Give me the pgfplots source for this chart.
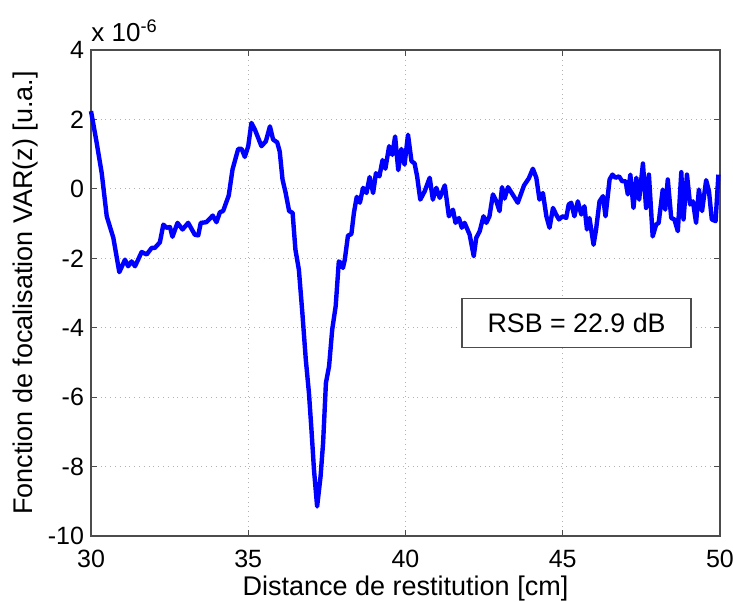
\documentclass[border=0pt]{standalone}
\usepackage{fontspec}
\setmainfont{Liberation Sans}
\usepackage{pgfplots}
\pgfplotsset{compat=1.18}
\begin{document}
\begin{tikzpicture}
\begin{axis}[
  scale only axis,
  width=314.5pt, height=243pt,
  xmin=30, xmax=50, ymin=-10, ymax=4,
  xtick={30,35,40,45,50},
  ytick={-10,-8,-6,-4,-2,0,2,4},
  tick align=inside,
  major tick length=3pt,
  grid=major,
  major grid style={gray!60, dotted, line width=0.5pt},
  axis line style={black!70, line width=0.6pt},
  tick style={black!70, line width=0.5pt},
  /pgf/number format/assume math mode=true,
  tick label style={font=\fontsize{12.5}{14}\selectfont},
  xticklabel style={yshift=-3.5pt},
  label style={font=\fontsize{13.5}{15}\selectfont},
  xlabel={Distance de restitution [cm]},
  ylabel={Fonction de focalisation VAR(z) [u.a.]},
  xlabel style={yshift=3pt},
  ylabel style={yshift=-2pt},
  clip=false,
]
\coordinate (bbsw) at (rel axis cs:-0.1447,-0.1358);
\coordinate (bbne) at (rel axis cs:1.0207,1.1029);
\addplot[blue, line width=2.2pt, line join=round] coordinates {
(30.00,2.24) (30.18,1.33) (30.34,0.46) (30.50,-0.79) (30.71,-1.41) (30.90,-2.40)
(31.08,-2.04) (31.18,-2.23) (31.29,-2.09) (31.40,-2.23) (31.61,-1.82) (31.77,-1.89)
(31.93,-1.70) (32.03,-1.70) (32.19,-1.54) (32.30,-1.03) (32.40,-1.12) (32.51,-1.10)
(32.59,-1.38) (32.75,-0.98) (32.91,-1.17) (33.09,-0.98) (33.30,-1.32) (33.41,-1.34)
(33.49,-0.98) (33.67,-0.96) (33.87,-0.77) (33.99,-0.96) (34.10,-0.67) (34.20,-0.64)
(34.38,-0.19) (34.50,0.56) (34.68,1.15) (34.79,1.15) (34.89,0.92) (35.00,1.23)
(35.10,1.90) (35.21,1.71) (35.42,1.23) (35.56,1.37) (35.69,1.80) (35.79,1.42)
(35.92,1.34) (36.00,1.08) (36.09,0.27) (36.19,-0.12) (36.30,-0.64) (36.41,-0.69)
(36.50,-1.75) (36.61,-2.33) (36.72,-3.57) (36.83,-4.92) (36.93,-5.88) (37.01,-6.94)
(37.09,-8.09) (37.19,-9.15) (37.30,-8.28) (37.38,-7.32) (37.47,-5.59) (37.57,-5.11)
(37.67,-4.05) (37.78,-3.38) (37.88,-2.09) (37.94,-2.13) (38.01,-2.28) (38.07,-2.04)
(38.17,-1.35) (38.28,-1.30) (38.36,-0.69) (38.45,-0.23) (38.55,-0.40) (38.65,0.03)
(38.76,-0.12) (38.86,0.34) (38.97,-0.12) (39.06,0.45) (39.17,0.36) (39.27,0.83)
(39.36,0.58) (39.48,1.23) (39.58,0.98) (39.67,1.51) (39.77,0.54) (39.87,1.15)
(39.97,0.70) (40.08,1.56) (40.19,0.80) (40.29,0.73) (40.37,0.36) (40.47,-0.31)
(40.61,-0.07) (40.77,0.32) (40.87,-0.31) (40.98,0.03) (41.09,-0.26) (41.25,0.10)
(41.38,-0.79) (41.51,-0.60) (41.59,-0.98) (41.70,-0.84) (41.79,-1.12) (41.88,-0.98)
(42.04,-1.32) (42.17,-1.94) (42.25,-1.41) (42.36,-1.22) (42.48,-0.79) (42.57,-0.98)
(42.67,-0.79) (42.78,-0.16) (42.89,-0.36) (42.99,-0.64) (43.07,0.05) (43.15,-0.28)
(43.26,0.05) (43.42,-0.18) (43.57,-0.40) (43.77,0.10) (43.92,0.30) (44.05,0.58)
(44.16,0.32) (44.26,-0.31) (44.37,-0.12) (44.48,-0.79) (44.58,-1.12) (44.69,-0.55)
(44.79,-0.74) (44.88,-0.88) (45.00,-0.79) (45.11,-0.84) (45.19,-0.45) (45.27,-0.40)
(45.37,-0.79) (45.48,-0.36) (45.59,-0.74) (45.69,-0.50) (45.77,-1.17) (45.85,-0.84)
(45.98,-1.61) (46.06,-1.17) (46.17,-0.36) (46.28,-0.21) (46.36,-0.79) (46.49,0.27)
(46.58,0.41) (46.68,0.32) (46.79,0.36) (46.89,0.22) (47.00,0.22) (47.07,-0.16)
(47.15,0.41) (47.25,-0.55) (47.34,0.32) (47.43,-0.31) (47.55,0.73) (47.65,-0.55)
(47.74,0.41) (47.86,-1.37) (47.97,-1.03) (48.05,-0.98) (48.18,-0.02) (48.26,-0.60)
(48.34,0.27) (48.45,-0.84) (48.55,-0.88) (48.66,-1.22) (48.77,0.48) (48.84,-0.88)
(48.95,0.41) (49.05,-0.45) (49.14,-0.36) (49.24,-0.98) (49.33,-0.02) (49.43,-0.64)
(49.56,0.25) (49.65,-0.07) (49.74,-0.88) (49.86,-0.93) (49.95,0.41)
};
\node[draw=black!70, line width=0.6pt, fill=white, minimum width=114.5pt, minimum height=24.3pt,
      font=\fontsize{13.4}{15}\selectfont] at (axis cs:45.44,-3.86) {RSB = 22.9 dB};
\node[anchor=base west, font=\fontsize{13}{15}\selectfont, inner sep=0pt] at ([yshift=4.5pt]rel axis cs:0,1) {x 10\textsuperscript{-6}};
\end{axis}
\pgfresetboundingbox
\path (bbsw) rectangle (bbne);
\end{tikzpicture}
\end{document}
